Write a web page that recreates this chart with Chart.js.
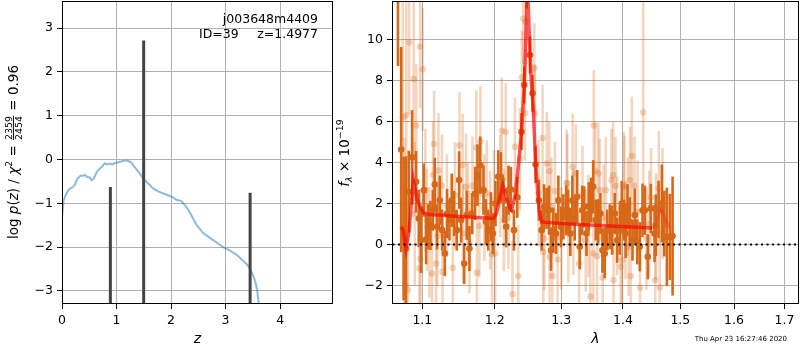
<!DOCTYPE html>
<html>
<head>
<meta charset="utf-8">
<script src="https://cdn.jsdelivr.net/npm/chart.js@4.4.1/dist/chart.umd.min.js"></script>
<style>
  html, body { margin: 0; padding: 0; background: #fff; }
  #wrap { position: relative; width: 800px; height: 350px; overflow: hidden; }
  #pz-canvas { position: absolute; left: 0; top: 0; }
  #spec-canvas { position: absolute; left: 335px; top: 0; }
</style>
</head>
<body>
<div id="wrap">
  <canvas id="pz-canvas" width="335" height="350"></canvas>
  <canvas id="spec-canvas" width="465" height="350"></canvas>
</div>
<script>
// ---- p(z) panel ----
const pzZ = [0, 0.03, 0.08, 0.12, 0.20, 0.24, 0.28, 0.34, 0.385, 0.42, 0.46, 0.51, 0.54, 0.58, 0.64,
  0.69, 0.73, 0.78, 0.83, 0.87, 0.92, 0.97, 1.03, 1.09, 1.15, 1.21, 1.27, 1.33, 1.43, 1.49, 1.58,
  1.67, 1.76, 1.91, 2.01, 2.10, 2.19, 2.28, 2.37, 2.46, 2.59, 2.68, 2.83, 2.98, 3.08, 3.20, 3.32,
  3.41, 3.47, 3.54, 3.58, 3.61, 3.64];
const pzLogP = [-1.31, -0.93, -0.78, -0.69, -0.63, -0.57, -0.44, -0.37, -0.37, -0.35, -0.40, -0.41,
  -0.47, -0.44, -0.28, -0.21, -0.17, -0.09, -0.11, -0.09, -0.11, -0.08, -0.07, -0.04, -0.03, -0.03,
  -0.07, -0.17, -0.32, -0.44, -0.55, -0.66, -0.73, -0.80, -0.85, -0.92, -0.95, -1.08, -1.27, -1.48,
  -1.68, -1.76, -1.89, -2.02, -2.08, -2.17, -2.31, -2.42, -2.55, -2.76, -2.99, -3.30, -3.60];
const peakZ = [0.887, 1.4977, 3.45];
const peakTop = [-0.63, 2.72, -0.76];

// ---- spectrum panel ----
const specWave = [1.0682, 1.0724, 1.0755, 1.0786, 1.0822, 1.0865, 1.0917, 1.0953, 1.0983, 1.1019,
  1.1050, 1.1076, 1.1107, 1.1139, 1.1166, 1.1196, 1.1233, 1.1264, 1.1301, 1.1332,
  1.1364, 1.1396, 1.1428, 1.1465, 1.1497, 1.1525, 1.1567, 1.1604, 1.1641, 1.1679,
  1.1721, 1.1754, 1.1792, 1.1839, 1.1873, 1.1906, 1.1945, 1.1974, 1.2011, 1.2050,
  1.2089, 1.2127, 1.2166, 1.2201, 1.2236, 1.2280, 1.2330, 1.2393, 1.2434, 1.2468,
  1.2519, 1.2559, 1.2604, 1.2656, 1.2696, 1.2732, 1.2772, 1.2809, 1.2840, 1.2876,
  1.2918, 1.2954, 1.2996, 1.3032, 1.3075, 1.3106, 1.3142, 1.3174, 1.3211, 1.3250,
  1.3291, 1.3330, 1.3362, 1.3399, 1.3436, 1.3475, 1.3508, 1.3549, 1.3589, 1.3626,
  1.3659, 1.3697, 1.3737, 1.3780, 1.3819, 1.3863, 1.3903, 1.3947, 1.3980, 1.4021,
  1.4045, 1.4077, 1.4116, 1.4162, 1.4201, 1.4242, 1.4287, 1.4333, 1.4373, 1.4425,
  1.4477, 1.4542, 1.4564, 1.4612, 1.4670, 1.4713, 1.4759, 1.4812, 1.4861];
const specFlux = [12.3, 4.63, 0.78, -0.20, 2.57, 4.25, 3.06, 1.27, 0.21, 2.65,
  0.24, 0.86, 0.93, 1.67, 2.93, 0.86, 2.16, 0.70, -0.44, 1.51,
  1.19, 2.16, 1.51, 0.70, 3.14, 1.19, -0.93, 1.43, -0.20, 1.51,
  2.49, 3.38, 3.87, 2.65, 1.11, 0.70, 1.35, 0.54, 2.00, 3.30,
  3.30, 2.16, 0.86, 2.65, 2.68, 0.70, 2.30, 5.50, 7.77, 12.5,
  9.24, 7.37, 3.90, 2.16, 0.70, 1.84, 1.76, 1.67, -0.28, 0.70,
  0.54, 2.16, 0.86, 1.35, 1.67, 1.67, 0.54, 2.16, 1.19, 2.33,
  -0.11, 1.67, 1.84, 0.54, 1.84, 2.16, 2.81, 1.19, 1.11, 1.51,
  -0.28, -0.44, 0.70, 0.86, 0.70, 1.51, 0.21, 0.70, 2.00, 1.19,
  0.54, 1.84, 1.11, 0.21, 1.43, 0.13, -0.11, 1.67, 1.67, -0.60,
  1.76, 0.54, 0.94, 1.71, 2.00, 1.02, 0.37, 0.37, 0.41];
const specErr = [3.6, 5.0, 3.5, 4.5, 2.0, 2.3, 1.5, 1.4, 1.6, 1.3,
  1.2, 1.1, 1.2, 1.0, 1.3, 1.1, 1.2, 1.0, 1.1, 1.2,
  1.0, 1.3, 1.1, 1.0, 1.4, 1.1, 1.0, 1.2, 1.1, 1.0,
  1.3, 1.5, 1.4, 1.2, 1.1, 1.0, 1.2, 1.0, 1.1, 1.3,
  1.2, 1.1, 1.0, 1.2, 1.1, 1.0, 1.0, 0.9, 0.9, 1.0,
  0.9, 0.9, 0.9, 1.0, 1.0, 1.1, 1.0, 1.2, 1.0, 1.1,
  1.0, 1.2, 1.0, 1.1, 1.2, 1.0, 1.1, 1.2, 1.0, 1.3,
  1.1, 1.2, 1.0, 1.1, 1.2, 1.1, 1.3, 1.0, 1.1, 1.0,
  1.1, 1.2, 1.0, 1.1, 1.2, 1.0, 1.1, 1.2, 1.1, 1.0,
  1.2, 1.1, 1.2, 1.0, 1.3, 1.1, 1.2, 1.3, 1.2, 1.1,
  1.2, 1.4, 1.5, 1.4, 1.9, 1.6, 2.4, 2.1, 2.9];

// individual (unbinned) exposures, drawn faint
const rawWave = [1.0828, 1.0970, 1.1005, 1.0886, 1.0790, 1.0744, 1.0920, 1.1157, 1.1215, 1.1262,
  1.1142, 1.1040, 1.0974, 1.0961, 1.1183, 1.1128, 1.1270, 1.0811, 1.0777, 1.0764,
  1.1093, 1.1501, 1.1546, 1.1594, 1.1683, 1.1737, 1.1796, 1.2103, 1.2160, 1.2079,
  1.1887, 1.1410, 1.1745, 1.2007, 1.1961, 1.1552, 1.1642, 1.1935, 1.2132, 1.2419,
  1.2453, 1.2398, 1.2585, 1.2595, 1.2443, 1.2295, 1.2369, 1.2711, 1.2776, 1.2814,
  1.3084, 1.2845, 1.2721, 1.2818, 1.2942, 1.2344, 1.2259, 1.2860, 1.2737, 1.3517,
  1.3544, 1.3592, 1.3227, 1.3836, 1.3808, 1.3178, 1.3095, 1.3615, 1.3714, 1.3875,
  1.4013, 1.3110, 1.3281, 1.3512, 1.3572, 1.3663, 1.3842, 1.3463, 1.3986, 1.3963,
  1.3387, 1.4345, 1.4150, 1.4120, 1.4196, 1.4025, 1.4081, 1.4616, 1.4682, 1.4094,
  1.4133, 1.4291, 1.4554, 1.4633, 1.4042, 1.4402, 1.4568, 1.0900, 1.1060, 1.1200,
  1.1330, 1.1440, 1.1620, 1.1780, 1.1850, 1.1990, 1.2200, 1.2650, 1.2900, 1.3000,
  1.3190, 1.3335, 1.3430, 1.3680, 1.3900, 1.4250, 1.4450, 1.4480];
const rawFlux = [9.85, 9.64, 8.54, 8.07, 6.30, 6.20, 5.80, 4.90, 3.60, 2.86,
  3.40, 2.65, -0.68, -1.17, -0.93, -1.41, -1.33, -2.23, -1.98, 0.21,
  0.10, 4.83, 3.87, 2.81, 2.86, 4.72, 5.02, 5.54, 5.48, 2.86,
  2.49, -1.14, -1.38, -0.44, -0.47, 0.54, 0.13, 1.19, 1.19, 11.0,
  10.86, 8.15, 8.59, 6.39, 6.39, 4.76, 4.16, 5.19, 3.95, 3.58,
  3.00, 1.84, -0.37, -0.60, -0.73, -1.54, -2.42, -1.54, 0.29, 5.80,
  3.59, 3.46, 3.46, 3.38, 3.14, 3.79, 2.98, 2.65, 2.65, 2.85,
  2.89, 0.54, -0.93, -0.44, -0.57, -1.61, -1.74, -2.55, -0.76, -1.09,
  0.21, 6.44, 4.31, 3.14, 2.86, 2.81, 1.84, 2.73, 2.00, -0.11,
  -1.54, -2.10, -1.74, -2.10, 0.70, 0.29, 0.86, 1.50, 1.20, 0.40,
  1.90, 2.40, 1.60, 0.90, 1.80, 2.20, 1.30, 2.50, 2.60, 0.30,
  1.10, 2.40, 0.90, 1.30, 0.90, 1.60, 1.00, 2.30];
const rawErr = [3.5, 3.0, 3.0, 4.0, 5.5, 6.0, 3.0, 2.6, 2.8, 2.5,
  2.6, 3.0, 3.2, 2.9, 2.7, 2.4, 2.6, 4.0, 5.0, 5.0,
  2.7, 2.6, 2.5, 2.6, 2.4, 2.8, 2.7, 2.6, 2.4, 2.5,
  2.6, 2.4, 2.7, 2.5, 2.6, 2.4, 2.5, 2.4, 2.5, 2.2,
  2.2, 2.3, 2.2, 2.4, 2.3, 2.4, 2.5, 2.6, 2.5, 2.4,
  2.6, 2.4, 2.5, 2.6, 2.4, 2.5, 2.6, 2.4, 2.5, 2.7,
  2.4, 2.5, 2.4, 2.6, 2.5, 2.6, 2.4, 2.5, 2.6, 2.4,
  2.6, 2.4, 2.5, 2.4, 2.6, 2.4, 2.5, 2.6, 2.5, 2.4,
  2.5, 5.5, 2.9, 2.6, 2.4, 2.5, 2.4, 2.8, 2.7, 2.4,
  2.5, 2.6, 2.7, 2.8, 2.4, 2.5, 2.6, 3.5, 2.5, 2.4,
  2.5, 2.6, 2.4, 2.5, 2.6, 2.4, 2.5, 2.6, 2.4, 2.5,
  2.6, 2.4, 2.5, 2.6, 2.4, 2.5, 2.6, 2.4];

// best-fit template
const modelWave = [1.0720, 1.0749, 1.0786, 1.0828, 1.0881, 1.0934, 1.1013, 1.1103, 1.1557, 1.1983,
  1.2024, 1.2079, 1.2118, 1.2166, 1.2221, 1.2245, 1.2295, 1.2344, 1.2393, 1.2434,
  1.2460, 1.2484, 1.2509, 1.2535, 1.2570, 1.2604, 1.2656, 1.2696, 1.2995, 1.3523,
  1.4077, 1.4500, 1.4530, 1.4660, 1.4820];
const modelFlux = [0.86, 0.70, -0.20, 0.70, 3.14, 2.16, 1.54, 1.46, 1.35, 1.27,
  1.51, 2.33, 2.89, 2.33, 1.76, 1.67, 2.33, 3.79, 5.50, 7.77,
  10.3, 12.6, 10.3, 8.2, 6.55, 3.95, 1.67, 1.10, 1.02, 0.94,
  0.86, 0.81, 0.82, 1.70, 0.78];
// the template fades out past this wavelength
const modelFadeFrom = 1.45;

const waveTicks = [1.1, 1.2, 1.3, 1.4, 1.5, 1.6, 1.7];

const FONT = 'DejaVu Sans';
const ORANGE = 'rgb(214,104,24)';
const ORANGE_FAINT = 'rgba(214,104,24,0.27)';
const GRID = '#b0b0b0';

const minus = v => (v < 0 ? '\u2212' + Math.abs(v) : String(v));

// black box round the plot area, like matplotlib spines
const framePlugin = {
  id: 'frame',
  afterDraw(chart) {
    const { ctx, chartArea: a } = chart;
    ctx.save();
    ctx.strokeStyle = '#000';
    ctx.lineWidth = 1;
    ctx.strokeRect(a.left + 0.5, a.top + 0.5, a.right - a.left - 1, a.bottom - a.top - 1);
    ctx.restore();
  }
};

// vertical error bars, drawn just under each dataset's markers
const errorBarPlugin = {
  id: 'errorBars',
  beforeDatasetDraw(chart, args) {
    const ds = chart.data.datasets[args.index];
    if (!ds.errors) return;
    const { ctx, chartArea: a, scales: { x, y } } = chart;
    ctx.save();
    ctx.beginPath();
    ctx.rect(a.left, a.top, a.right - a.left, a.bottom - a.top);
    ctx.clip();
    ctx.strokeStyle = ds.errorColor;
    ctx.lineWidth = ds.errorWidth;
    ds.data.forEach((p, i) => {
      const px = x.getPixelForValue(p.x);
      ctx.beginPath();
      ctx.moveTo(px, y.getPixelForValue(p.y - ds.errors[i]));
      ctx.lineTo(px, y.getPixelForValue(p.y + ds.errors[i]));
      ctx.stroke();
    });
    ctx.restore();
  }
};

function partFont(p, size) {
  const s = size * (p.scale || 1);
  return (p.italic ? 'italic ' : '') + s + 'px "' + FONT + '"';
}

function partWidth(ctx, p, size) {
  if (p.num) {
    ctx.font = partFont({ scale: 0.7 }, size);
    return Math.max(ctx.measureText(p.num).width, ctx.measureText(p.den).width) + 2;
  }
  ctx.font = partFont(p, size);
  return ctx.measureText(p.text).width;
}

// rotated label made of pieces (italics, sub/superscripts, a fraction)
function drawMathLabel(ctx, parts, cx, cy, size) {
  ctx.save();
  ctx.translate(cx, cy);
  ctx.rotate(-Math.PI / 2);
  ctx.fillStyle = '#000';
  ctx.textBaseline = 'alphabetic';
  const widths = parts.map(p => partWidth(ctx, p, size));
  let x = -widths.reduce((s, w) => s + w, 0) / 2;
  const base = size * 0.36;
  parts.forEach((p, i) => {
    const w = widths[i];
    if (p.num) {
      ctx.font = partFont({ scale: 0.7 }, size);
      ctx.textAlign = 'center';
      const axis = base - size * 0.33;
      ctx.fillText(p.num, x + w / 2, axis - 1.5);
      ctx.fillText(p.den, x + w / 2, axis + size * 0.55 + 1.5);
      ctx.fillRect(x + 1, axis - 0.5, w - 2, 1);
    } else {
      ctx.font = partFont(p, size);
      ctx.textAlign = 'left';
      ctx.fillText(p.text, x, base + (p.dy || 0));
    }
    x += w;
  });
  ctx.restore();
}

function tickFont() {
  return { family: FONT, size: 12.5 };
}

// fixed axis boxes so the plot areas sit where the reference has them
function fixHeight(h) {
  return s => { s.height = h; s.paddingLeft = 0; s.paddingRight = 0; };
}
function fixWidth(w) {
  return s => { s.width = w; s.paddingTop = 0; s.paddingBottom = 0; };
}

const pzLabels = {
  id: 'pzLabels',
  afterDraw(chart) {
    const ctx = chart.ctx;
    const s = 13.5;
    drawMathLabel(ctx, [
      { text: 'log ' }, { text: 'p', italic: true }, { text: '(' }, { text: 'z', italic: true },
      { text: ') / ' }, { text: '\u03c7', italic: true }, { text: '2', scale: 0.7, dy: -s * 0.42 },
      { text: ' = ' }, { num: '2359', den: '2454' }, { text: ' = 0.96' }
    ], 13, 152, s);
    ctx.save();
    ctx.fillStyle = '#000';
    ctx.font = '12.5px "' + FONT + '"';
    ctx.textBaseline = 'middle';
    ctx.textAlign = 'right';
    ctx.fillText('j003648m4409', 318, 20);
    ctx.fillText('z=1.4977', 318, 35);
    ctx.textAlign = 'left';
    ctx.fillText('ID=39', 199, 35);
    ctx.restore();
  }
};

const specLabels = {
  id: 'specLabels',
  afterDraw(chart) {
    const ctx = chart.ctx;
    const s = 13.5;
    drawMathLabel(ctx, [
      { text: 'f', italic: true }, { text: '\u03bb', italic: true, scale: 0.7, dy: s * 0.22 },
      { text: ' \u00d7 10' }, { text: '\u221219', scale: 0.7, dy: -s * 0.42 }
    ], 9, 153, s);
    ctx.save();
    ctx.fillStyle = '#000';
    ctx.font = '7px "' + FONT + '"';
    ctx.textAlign = 'right';
    ctx.textBaseline = 'middle';
    ctx.fillText('Thu Apr 23 16:27:46 2020', 452, 339);
    ctx.restore();
  }
};

const gridOpts = { color: GRID, lineWidth: 1, tickColor: '#000', tickLength: 5 };

new Chart(document.getElementById('pz-canvas'), {
  type: 'scatter',
  data: {
    datasets: [
      {
        data: peakZ.flatMap((z, i) => [{ x: z, y: -5 }, { x: z, y: peakTop[i] }, { x: z, y: null }]),
        showLine: true,
        spanGaps: false,
        borderColor: '#444',
        borderWidth: 3,
        pointRadius: 0,
        order: 0
      },
      {
        data: pzZ.map((z, i) => ({ x: z, y: pzLogP[i] })),
        showLine: true,
        borderColor: 'rgba(31,119,180,0.5)',
        borderWidth: 2,
        pointRadius: 0,
        tension: 0,
        order: 1
      }
    ]
  },
  options: {
    responsive: false,
    animation: false,
    layout: { autoPadding: false, padding: { top: 1, right: 2, left: 0, bottom: 0 } },
    plugins: { legend: { display: false }, tooltip: { enabled: false } },
    scales: {
      x: {
        type: 'linear',
        min: 0,
        max: 4.97,
        ticks: { stepSize: 1, includeBounds: false, color: '#000', font: tickFont(), padding: 4, maxRotation: 0 },
        grid: gridOpts,
        border: { display: false },
        title: { display: true, text: 'z', color: '#000', font: { family: FONT, size: 14, style: 'italic' }, padding: { top: 0, bottom: 2 } },
        afterFit: fixHeight(46)
      },
      y: {
        min: -3.3,
        max: 3.62,
        ticks: { stepSize: 1, includeBounds: false, color: '#000', font: tickFont(), padding: 4, callback: minus },
        grid: gridOpts,
        border: { display: false },
        afterFit: fixWidth(62)
      }
    }
  },
  plugins: [framePlugin, pzLabels]
});

new Chart(document.getElementById('spec-canvas'), {
  type: 'scatter',
  data: {
    datasets: [
      {
        data: [{ x: 1.0, y: 0 }, { x: 1.8, y: 0 }],
        showLine: true,
        borderColor: '#000',
        borderWidth: 2,
        borderDash: [2, 3.5],
        pointRadius: 0,
        order: 0
      },
      {
        data: modelWave.map((w, i) => ({ x: w, y: modelFlux[i] })),
        showLine: true,
        borderColor: 'rgba(255,0,0,0.65)',
        borderWidth: 3.5,
        pointRadius: 0,
        tension: 0,
        segment: {
          borderColor: c => (c.p0.parsed.x >= modelFadeFrom ? 'rgba(255,40,40,0.4)' : undefined),
          borderWidth: c => (c.p0.parsed.x >= modelFadeFrom ? 2.5 : undefined)
        },
        order: 1
      },
      {
        data: specWave.map((w, i) => ({ x: w, y: specFlux[i] })),
        errors: specErr,
        errorColor: ORANGE,
        errorWidth: 2.6,
        pointRadius: 3.3,
        pointBackgroundColor: ORANGE,
        pointBorderWidth: 0,
        order: 2
      },
      {
        data: rawWave.map((w, i) => ({ x: w, y: rawFlux[i] })),
        errors: rawErr,
        errorColor: ORANGE_FAINT,
        errorWidth: 2.6,
        pointRadius: 3.3,
        pointBackgroundColor: ORANGE_FAINT,
        pointBorderWidth: 0,
        order: 3
      }
    ]
  },
  options: {
    responsive: false,
    animation: false,
    layout: { autoPadding: false, padding: { top: 1, right: 1, left: 0, bottom: 0 } },
    plugins: { legend: { display: false }, tooltip: { enabled: false } },
    scales: {
      x: {
        type: 'logarithmic',
        min: 1.0606,
        max: 1.730,
        afterBuildTicks: s => { s.ticks = waveTicks.map(v => ({ value: v })); },
        ticks: { color: '#000', font: tickFont(), padding: 4, maxRotation: 0, autoSkip: false, callback: v => Number(v).toFixed(1) },
        grid: gridOpts,
        border: { display: false },
        title: { display: true, text: '\u03bb', color: '#000', font: { family: FONT, size: 14, style: 'italic' }, padding: { top: 0, bottom: 2 } },
        afterFit: fixHeight(46)
      },
      y: {
        min: -2.9,
        max: 11.87,
        ticks: { stepSize: 2, includeBounds: false, color: '#000', font: tickFont(), padding: 4, callback: minus },
        grid: gridOpts,
        border: { display: false },
        afterFit: fixWidth(57)
      }
    }
  },
  plugins: [framePlugin, errorBarPlugin, specLabels]
});
</script>
</body>
</html>
